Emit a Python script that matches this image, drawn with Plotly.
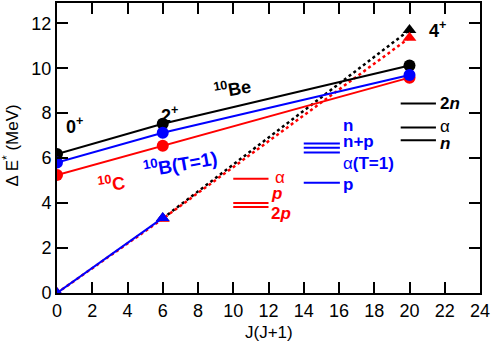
import plotly.graph_objects as go

# ---- data ----
J = [0, 6, 20]
E_10Be = [6.18, 7.53, 10.12]
E_10B = [5.80, 7.13, 9.70]
E_10C = [5.25, 6.55, 9.58]

J_tri_Be = [6, 20]
E_tri_Be = [3.32, 11.70]
J_tri_C = [0, 6, 20]
E_tri_C = [0.0, 3.30, 11.35]
J_tri_B = [0, 6]
E_tri_B = [0.0, 3.34]

thr_Be_labels = ["2<i>n</i>", "α", "<i>n</i>"]
thr_Be_E = [8.43, 7.36, 6.80]
thr_B_labels = ["n", "n+p", "α(T=1)", "p"]
thr_B_E = [6.65, 6.46, 6.25, 4.90]
thr_C_labels = ["α", "<i>p</i>", "2<i>p</i>"]
thr_C_E = [5.08, 4.00, 3.82]

x_ticks = list(range(0, 25, 2))
y_ticks = list(range(0, 13, 2))

BLACK, BLUE, RED = "#000000", "#0000ff", "#ff0000"
FONT = "Liberation Sans, Arial, sans-serif"

fig = go.Figure()

# dotted triangle bands
fig.add_trace(go.Scatter(x=J_tri_Be, y=E_tri_Be, mode="lines+markers",
                         line=dict(color=BLACK, width=2.5, dash="dot"),
                         marker=dict(symbol="triangle-up", size=12, color=BLACK)))
fig.add_trace(go.Scatter(x=J_tri_C, y=E_tri_C, mode="lines+markers",
                         line=dict(color=RED, width=2.5, dash="dot"),
                         marker=dict(symbol="triangle-up", size=12, color=RED)))
fig.add_trace(go.Scatter(x=J_tri_B, y=E_tri_B, mode="lines+markers",
                         line=dict(color=BLUE, width=2),
                         marker=dict(symbol="triangle-up", size=12, color=BLUE)))

# circle bands
for E, c in [(E_10Be, BLACK), (E_10C, RED), (E_10B, BLUE)]:
    fig.add_trace(go.Scatter(x=J, y=E, mode="lines+markers",
                             line=dict(color=c, width=2),
                             marker=dict(symbol="circle", size=12, color=c)))

# threshold lines
def thr(vals, x0, x1, c):
    for v in vals:
        fig.add_trace(go.Scatter(x=[x0, x1], y=[v, v], mode="lines",
                                 line=dict(color=c, width=2)))

thr(thr_Be_E, 19.5, 21.5, BLACK)
thr(thr_B_E, 14.0, 16.05, BLUE)
thr(thr_C_E, 10.0, 12.0, RED)

ann = []

def label(x, y, text, color, size=17, bold=True, angle=0, xanchor="center"):
    t = f"<b>{text}</b>" if bold else text
    ann.append(dict(x=x, y=y, xref="x", yref="y", text=t, showarrow=False,
                    font=dict(family=FONT, size=size, color=color),
                    textangle=angle, xanchor=xanchor, yanchor="middle"))

# threshold labels
for lab, y in zip(thr_Be_labels, [8.45, 7.40, 6.65]):
    label(21.6, y, lab, BLACK, bold=(lab != "α"), xanchor="left")
for lab, y in zip(thr_B_labels, [7.44, 6.72, 5.75, 4.83]):
    if lab.startswith("α"):
        label(16.1, y, "α<b>(T=1)</b>", BLUE, bold=False, xanchor="left")
    else:
        label(16.1, y, lab, BLUE, xanchor="left")
for lab, y in zip(thr_C_labels, [5.12, 4.43, 3.55]):
    label(12.05 if lab != "α" else 12.25, y, lab, RED, bold=(lab != "α"), xanchor="left")

# band labels
label(1.02, 7.47, "0<sup>+</sup>", BLACK, size=18)
label(6.41, 7.95, "2<sup>+</sup>", BLACK, size=18)
label(21.6, 11.7, "4<sup>+</sup>", BLACK, size=18)
label(9.93, 9.1, "<sup>10</sup>Be", BLACK, size=18, angle=-10)
label(7.0, 5.8, "<sup>10</sup>B(T=1)", BLUE, size=19, angle=-10)
label(3.12, 4.85, "<sup>10</sup>C", RED, size=18, angle=-8)

# axis titles
ann.append(dict(x=-0.108, y=0.51, xref="paper", yref="paper", text="Δ E<sup>*</sup> (MeV)",
                showarrow=False, textangle=-90, font=dict(family=FONT, size=17, color=BLACK),
                xanchor="center", yanchor="middle"))
ann.append(dict(x=0.5, y=-0.136, xref="paper", yref="paper", text="J(J+1)",
                showarrow=False, font=dict(family=FONT, size=17, color=BLACK),
                xanchor="center", yanchor="middle"))

axis_common = dict(showgrid=False, zeroline=False, showline=True, linecolor=BLACK,
                   linewidth=2, ticks="inside", ticklen=11, tickwidth=2,
                   tickcolor=BLACK, mirror="ticks",
                   tickfont=dict(family=FONT, size=18, color=BLACK))

fig.update_layout(
    width=491, height=345,
    margin=dict(l=57, r=11, t=1, b=52),
    paper_bgcolor="white", plot_bgcolor="white",
    showlegend=False,
    annotations=ann,
    xaxis=dict(range=[0, 24], tickvals=x_ticks, **axis_common),
    yaxis=dict(range=[0, 12.9], tickvals=y_ticks, **axis_common),
)

fig.write_html("out.html", config={"displayModeBar": False},
               post_script="document.body.style.margin='0';")
